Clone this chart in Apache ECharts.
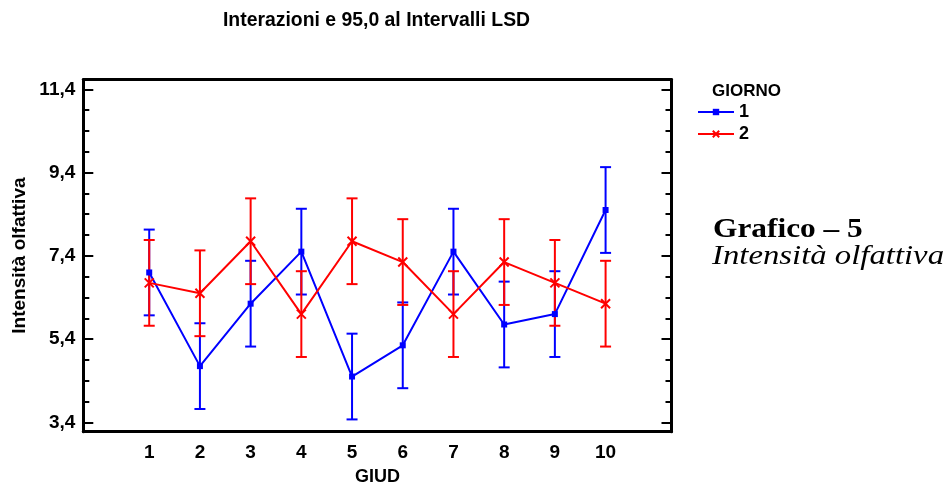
<!DOCTYPE html>
<html>
<head>
<meta charset="utf-8">
<script src="https://cdn.jsdelivr.net/npm/echarts@6/dist/echarts.min.js"></script>
<style>
  html, body { margin: 0; padding: 0; background: #ffffff; }
  #chart { width: 945px; height: 486px; }
</style>
</head>
<body>
<div id="chart"></div>
<script>
// Judges (GIUD) on the x axis
const giudici = [1, 2, 3, 4, 5, 6, 7, 8, 9, 10];
// Mean olfactory intensity per judge, day 1 and day 2
const giorno1 = [7.0, 4.75, 6.25, 7.5, 4.5, 5.25, 7.5, 5.75, 6.0, 8.5];
const giorno2 = [6.75, 6.5, 7.75, 6.0, 7.75, 7.25, 6.0, 7.25, 6.75, 6.25];
// Half width of the 95% LSD interval
const mezzoLSD = 1.03;
// Y axis tick values
const yTicksMajor = [3.4, 5.4, 7.4, 9.4, 11.4];
const yTicksMinor = [3.4, 3.9, 4.4, 4.9, 5.4, 5.9, 6.4, 6.9, 7.4, 7.9, 8.4, 8.9, 9.4, 9.9, 10.4, 10.9, 11.4];
const serieNomi = ['1', '2'];

const BLUE = '#0000ff';
const RED = '#ff0000';
const FONT = '"Liberation Sans", Arial, sans-serif';
const SERIF = '"Liberation Serif", "Times New Roman", serif';

const Y_MIN = 3.175, Y_MAX = 11.635;
const X_MIN = -0.3, X_MAX = 11.3;
const PLOT = { left: 83.3, right: 273.5, top: 79.5, bottom: 54.3, containLabel: false, outerBoundsMode: 'none' };

function pairs(vals) { return giudici.map((g, i) => [g, vals[i]]); }
function intervals(vals) { return giudici.map((g, i) => [g, vals[i] - mezzoLSD, vals[i] + mezzoLSD]); }

function errorBar(color) {
  return function (params, api) {
    const x = api.value(0);
    const lo = api.coord([x, api.value(1)]);
    const hi = api.coord([x, api.value(2)]);
    const w = 5.5;
    const st = { stroke: color, lineWidth: 2 };
    return {
      type: 'group',
      children: [
        { type: 'line', shape: { x1: lo[0], y1: lo[1], x2: hi[0], y2: hi[1] }, style: st },
        { type: 'line', shape: { x1: lo[0] - w, y1: lo[1], x2: lo[0] + w, y2: lo[1] }, style: st },
        { type: 'line', shape: { x1: hi[0] - w, y1: hi[1], x2: hi[0] + w, y2: hi[1] }, style: st }
      ]
    };
  };
}

// One y axis per side and grid; the second grid overlays the first to carry the short ticks
function yAxisDef(grid, pos, ticks, len, labels, name) {
  return {
    type: 'value', gridIndex: grid, position: pos, min: Y_MIN, max: Y_MAX,
    name: name || '',
    nameLocation: 'middle', nameGap: 54, nameMoveOverlap: false,
    nameTextStyle: { fontFamily: FONT, fontWeight: 'bold', fontSize: 19, color: '#000' },
    axisLine: { show: grid === 0, onZero: false, lineStyle: { color: '#000', width: 3 } },
    axisTick: { show: true, inside: true, length: len, customValues: ticks, lineStyle: { color: '#000', width: 2 } },
    axisLabel: labels ? {
      show: true, customValues: yTicksMajor, margin: 8,
      formatter: v => v.toFixed(1).replace('.', ','),
      fontFamily: FONT, fontWeight: 'bold', fontSize: 19, color: '#000'
    } : { show: false },
    splitLine: { show: false }
  };
}

const chart = echarts.init(document.getElementById('chart'), null, { renderer: 'canvas' });

chart.setOption({
  backgroundColor: '#ffffff',
  animation: false,
  title: {
    text: 'Interazioni e 95,0 al Intervalli LSD',
    left: 371.5, top: 6, textAlign: 'center',
    textStyle: { fontFamily: FONT, fontWeight: 'bold', fontSize: 19.4, color: '#000' }
  },
  grid: [Object.assign({}, PLOT), Object.assign({}, PLOT)],
  xAxis: [
    {
      type: 'value', gridIndex: 0, position: 'bottom', min: X_MIN, max: X_MAX,
      name: 'GIUD', nameLocation: 'middle', nameGap: 36, nameMoveOverlap: false,
      nameTextStyle: { fontFamily: FONT, fontWeight: 'bold', fontSize: 18, color: '#000' },
      axisLine: { show: true, onZero: false, lineStyle: { color: '#000', width: 3 } },
      axisTick: { show: false },
      axisLabel: {
        show: true, customValues: giudici, margin: 12,
        fontFamily: FONT, fontWeight: 'bold', fontSize: 19, color: '#000'
      },
      splitLine: { show: false }
    },
    {
      type: 'value', gridIndex: 0, position: 'top', min: X_MIN, max: X_MAX,
      axisLine: { show: true, onZero: false, lineStyle: { color: '#000', width: 3 } },
      axisTick: { show: false }, axisLabel: { show: false }, splitLine: { show: false }
    },
    {
      type: 'value', gridIndex: 1, position: 'bottom', min: X_MIN, max: X_MAX, show: false,
      axisLine: { onZero: false }
    }
  ],
  yAxis: [
    yAxisDef(0, 'left', yTicksMajor, 10, true, 'Intensità olfattiva'),
    yAxisDef(0, 'right', yTicksMajor, 10, false),
    yAxisDef(1, 'left', yTicksMinor, 6, false),
    yAxisDef(1, 'right', yTicksMinor, 6, false)
  ],
  legend: {
    data: serieNomi,
    orient: 'vertical',
    left: 692, top: 98,
    itemWidth: 36, itemHeight: 8, itemGap: 4,
    textStyle: { fontFamily: FONT, fontWeight: 'bold', fontSize: 18, color: '#000', lineHeight: 18 }
  },
  graphic: [
    {
      type: 'text', left: 712, top: 83,
      style: { text: 'GIORNO', fontFamily: FONT, fontWeight: 'bold', fontSize: 17, fill: '#000' }
    },
    {
      type: 'text', left: 713, top: 216, scaleX: 1.12,
      style: { text: 'Grafico – 5', fontFamily: SERIF, fontWeight: 'bold', fontSize: 28, fill: '#000' }
    },
    {
      type: 'text', left: 712, top: 243, scaleX: 1.17,
      style: { text: 'Intensità olfattiva', fontFamily: SERIF, fontStyle: 'italic', fontSize: 28, fill: '#000' }
    }
  ],
  series: [
    {
      type: 'custom', name: 'err1', xAxisIndex: 0, yAxisIndex: 0,
      renderItem: errorBar(BLUE), data: intervals(giorno1), z: 2, silent: true
    },
    {
      type: 'custom', name: 'err2', xAxisIndex: 0, yAxisIndex: 0,
      renderItem: errorBar(RED), data: intervals(giorno2), z: 2, silent: true
    },
    {
      type: 'line', name: serieNomi[0], data: pairs(giorno1),
      xAxisIndex: 0, yAxisIndex: 0, z: 3,
      symbol: 'rect', symbolSize: 6, showAllSymbol: true,
      lineStyle: { color: BLUE, width: 2 },
      itemStyle: { color: BLUE }
    },
    {
      type: 'line', name: serieNomi[1], data: pairs(giorno2),
      xAxisIndex: 0, yAxisIndex: 0, z: 3,
      symbol: 'path://M0,0L10,10M0,10L10,0', symbolSize: 9, showAllSymbol: true,
      lineStyle: { color: RED, width: 2 },
      itemStyle: { color: RED, borderColor: RED, borderWidth: 2 }
    }
  ]
});
</script>
</body>
</html>
